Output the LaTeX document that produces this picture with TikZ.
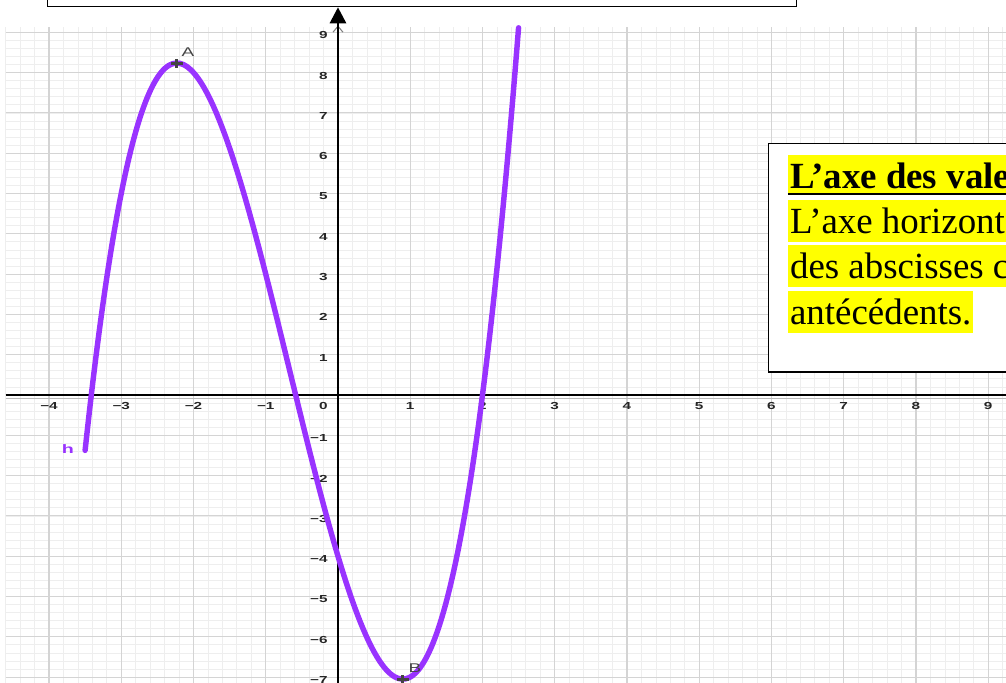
\documentclass[tikz,border=0pt]{standalone}
\usepackage{fontspec}
\setmainfont{Liberation Serif}
\newfontfamily\geofont{Liberation Sans}
\usepackage{tikz}
\usetikzlibrary{arrows.meta}
\definecolor{courbe}{HTML}{9933FF}
\definecolor{surligne}{HTML}{FFFF00}
\definecolor{grille}{HTML}{D4D4D4}
\definecolor{sousgrille}{HTML}{EEEEEE}
\definecolor{point}{HTML}{444444}
\newcommand\valeur[1]{\scalebox{1.5}[1]{\ifnum#1<0 −\number-#1\else#1\fi}}

\begin{document}
\begin{tikzpicture}[
        x=1.445cm, y=0.806cm,
        mineur/.style={draw=sousgrille, line width=0.4pt},
        majeur/.style={draw=grille, line width=0.6pt},
        axe/.style={draw=black, line width=1.6pt},
        graduation/.style={font=\geofont\fontsize{5.8}{7}\selectfont\bfseries, text=black!85, inner sep=0pt},
        ligne/.style={anchor=base west, fill=surligne, inner xsep=1pt, inner ysep=0pt, text height=0.68cm, text depth=0.16cm, font=\fontsize{21}{25}\selectfont},
        croix/.style={draw=point, line width=1.7pt},
        nompoint/.style={font=\geofont\fontsize{7.2}{9}\selectfont, text=point, inner sep=0pt}
    ]
    \useasboundingbox (-4.678,-7.146) rectangle (9.246,9.801);
    \clip (-4.678,-7.146) rectangle (9.246,9.801);

    \foreach \i in {-23,...,46}
        \draw[mineur] (\i/5,-7.3) -- (\i/5,9.13);
    \foreach \j in {-36,...,45}
        \draw[mineur] (-4.6,\j/5) -- (9.3,\j/5);
    \foreach \i in {-4,...,9}
        \draw[majeur] (\i,-7.3) -- (\i,9.13);
    \foreach \j in {-7,...,9}
        \draw[majeur] (-4.6,\j) -- (9.3,\j);

    \foreach \i in {-4,-3,-2,-1,1,2,3,4,5,6,7,8,9}
        \node[graduation, anchor=north, yshift=-0.15cm] (gx\i) at (\i,0) {\valeur{\i}};
    \foreach \j in {-7,-6,-5,-4,-3,-2,-1,1,2,3,4,5,6,7,8,9}
        \node[graduation, anchor=east, xshift=-0.2cm, yshift=-0.06cm] (gy\j) at (0,\j) {\valeur{\j}};
    \node[graduation, anchor=north east, xshift=-0.2cm, yshift=-0.15cm] (gzero) at (0,0) {\valeur{0}};

    \node[
            draw=black,
            line width=0.9pt,
            fill=white,
            anchor=south,
            minimum width=14.98cm,
            minimum height=1.2cm
        ] (haut) at (1.165,9.620) {};

    \draw[gray!55, line width=0.9pt] ([yshift=-0.07cm]-4.6,0) -- ([yshift=-0.07cm]9.3,0);
    \draw[axe] (-4.6,0) -- (9.3,0);
    \draw[gray, line width=0.6pt] ([shift={(-0.1cm,-0.12cm)}]0,9.15) -- (0,9.15) -- ([shift={(0.1cm,-0.12cm)}]0,9.15);
    \draw[axe, -{Triangle[width=0.32cm, length=0.32cm]}] (0,-7.3) -- (0,0 |- haut.south);

    \draw[draw=courbe, line width=3.1pt, line cap=round, smooth, samples=120, domain=-3.5:2.5]
        plot (\x,{(\x)*(\x)*(\x)+2*(\x)*(\x)-6*(\x)-4});

    \coordinate (A) at (-2.2301,8.2370);
    \coordinate (B) at (0.8968,-7.0509);
    \foreach \p in {A,B}
        \draw[croix] ([xshift=-0.12cm]\p) -- ([xshift=0.12cm]\p) ([yshift=-0.09cm]\p) -- ([yshift=0.09cm]\p);
    \node[nompoint] (nomA) at (-2.076,8.511) {\scalebox{1.5}[1]{A}};
    \node[nompoint] (nomB) at (1.066,-6.774) {\scalebox{1.5}[1]{B}};
    \node[font=\geofont\fontsize{7}{8}\selectfont\bfseries, text=courbe, inner sep=0pt] (nomh) at (-3.737,-1.340) {\scalebox{1.6}[1]{h}};

    \node[
            draw=black,
            line width=0.8pt,
            fill=white,
            anchor=north west,
            minimum width=6cm,
            minimum height=4.57cm
        ] (boite) at (5.952,6.253) {};
    \node[ligne, text depth=0.08cm] (ligne1) at (6.228,5.112) {\textbf{L’axe des vale}};
    \draw[line width=1.6pt] ([yshift=-0.1cm]ligne1.base west) -- ([yshift=-0.1cm]ligne1.base east);
    \node[ligne] (ligne2) at (6.228,3.995) {L’axe horizont};
    \node[ligne] (ligne3) at (6.228,2.878) {des abscisses c};
    \node[ligne] (ligne4) at (6.228,1.737) {antécédents.};
\end{tikzpicture}
\end{document}
